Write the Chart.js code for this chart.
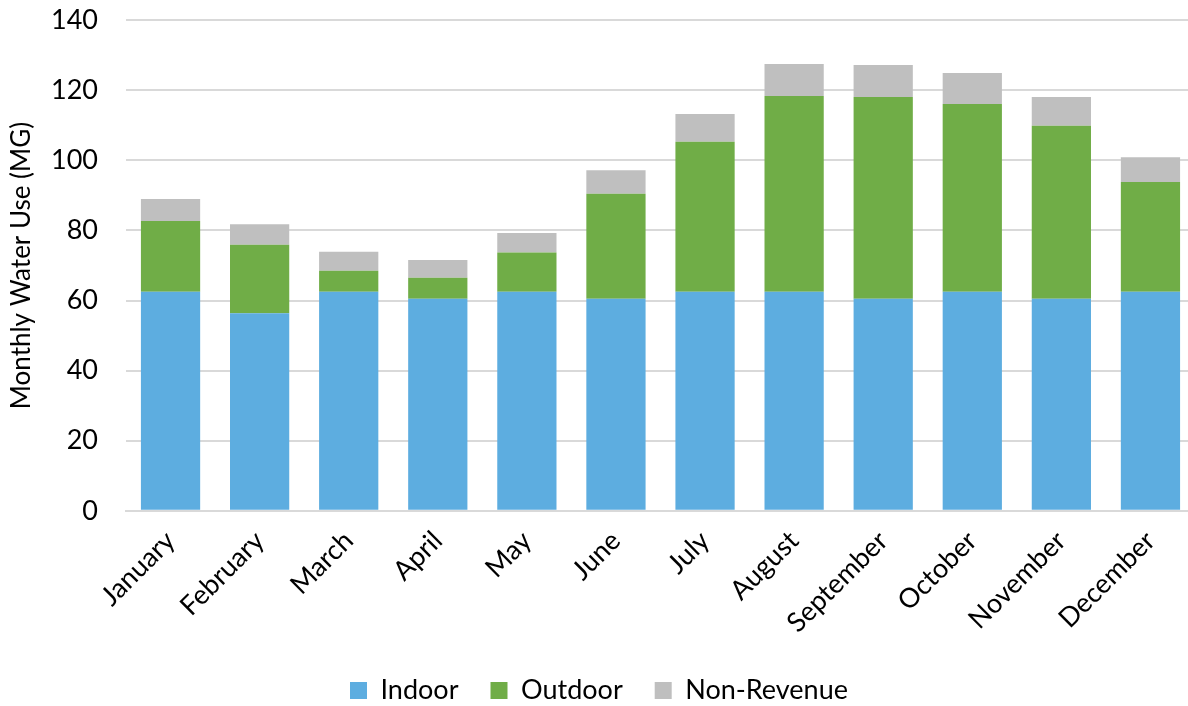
<!DOCTYPE html>
<html>
<head>
<meta charset="utf-8">
<script src="https://cdn.jsdelivr.net/npm/chart.js@4.4.0/dist/chart.umd.min.js"></script>
<style>
  html, body { margin: 0; padding: 0; background: #fff; overflow: hidden; }
  #wrap { width: 1188px; height: 706px; overflow: hidden; }
</style>
</head>
<body>
<!-- o canvas passa um pouco da borda direita, como a área do gráfico original -->
<div id="wrap"><canvas id="usoChart" width="1195" height="706"></canvas></div>
<script>
  // Dados mensais (MG)
  const meses = ['January','February','March','April','May','June','July','August','September','October','November','December'];
  const indoor = [62.5, 56.4, 62.5, 60.5, 62.5, 60.5, 62.5, 62.5, 60.5, 62.5, 60.5, 62.5];
  const outdoor = [20.2, 19.5, 6.0, 6.0, 11.2, 30.0, 42.8, 55.9, 57.6, 53.6, 49.4, 31.3];
  const naoFaturada = [6.3, 5.9, 5.4, 5.1, 5.6, 6.7, 7.9, 9.1, 9.1, 8.8, 8.2, 7.1];
  const ticksY = [0, 20, 40, 60, 80, 100, 120, 140];

  const fonte = 'Lato, "Open Sans", sans-serif';
  Chart.defaults.font.family = fonte;
  Chart.defaults.color = '#000';

  const ctx = document.getElementById('usoChart').getContext('2d');
  new Chart(ctx, {
    type: 'bar',
    data: {
      labels: meses,
      datasets: [
        { label: 'Indoor', data: indoor, backgroundColor: '#5dade0' },
        { label: 'Outdoor', data: outdoor, backgroundColor: '#70ad47' },
        { label: 'Non-Revenue', data: naoFaturada, backgroundColor: '#bfbfbf' }
      ]
    },
    options: {
      responsive: false,
      animation: false,
      layout: { padding: { left: 3, right: 0, top: 0, bottom: -8 } },
      datasets: { bar: { categoryPercentage: 1, barPercentage: 0.665 } },
      plugins: {
        legend: {
          position: 'bottom',
          labels: { boxWidth: 17, boxHeight: 17, padding: 32, font: { size: 27 }, color: '#000' }
        },
        tooltip: { enabled: false }
      },
      scales: {
        x: {
          stacked: true,
          grid: { display: false },
          border: { color: '#d9d9d9', width: 2 },
          ticks: { maxRotation: 45, minRotation: 45, font: { size: 27 }, color: '#000', padding: 6 },
          // o rótulo "January" não deve empurrar a área do gráfico
          afterFit: axis => { axis.paddingLeft = 0; axis.paddingRight = 0; }
        },
        y: {
          stacked: true,
          min: 0,
          max: 140,
          afterBuildTicks: axis => { axis.ticks = ticksY.map(v => ({ value: v })); },
          afterFit: axis => { axis.width = 123; },
          grid: { color: '#d9d9d9', lineWidth: 2, drawTicks: true, tickLength: 24, tickColor: 'rgba(0,0,0,0)' },
          border: { display: false },
          ticks: { font: { size: 27 }, color: '#000', padding: 4 },
          title: { display: true, text: 'Monthly Water Use (MG)', font: { size: 26 }, color: '#000', padding: { top: 3, bottom: 0 } }
        }
      }
    }
  });
</script>
</body>
</html>
